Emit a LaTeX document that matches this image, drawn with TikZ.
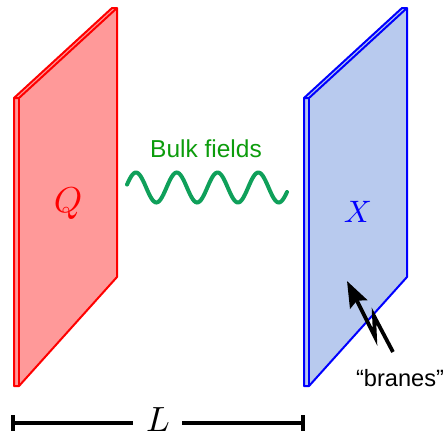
\documentclass[tikz,border=0pt]{standalone}
\usepackage{fontspec}
\setsansfont{Liberation Sans}
\usetikzlibrary{positioning,arrows.meta}
\definecolor{redfill}{HTML}{FF9999}
\definecolor{bluefill}{HTML}{B8CAEE}
\definecolor{bulkgreen}{HTML}{0FA05A}
\definecolor{bulktext}{HTML}{0C9C0C}

\begin{document}
\begin{tikzpicture}[x=1pt, y=-1pt,
    plate/.style={line width=2pt, line join=round},
    dimline/.style={line width=3.8pt, black},
    label/.style={inner sep=0pt, font=\sffamily\fontsize{23.6}{26}\selectfont}]
    \useasboundingbox (0,0) rectangle (444,434);

    % Left brane
    \draw[plate, draw=red, fill=redfill] (14,98) -- (112,8) -- (117,8) -- (117,277) -- (19,386) -- (14,386) -- cycle;
    \draw[plate, draw=red] (14,98) -- (19,98) -- (117,8);
    \draw[plate, draw=red] (19,98) -- (19,386);

    % Right brane
    \draw[plate, draw=blue, fill=bluefill] (304,98) -- (402,8) -- (407,8) -- (407,277) -- (309,386) -- (304,386) -- cycle;
    \draw[plate, draw=blue] (304,98) -- (309,98) -- (407,8);
    \draw[plate, draw=blue] (309,98) -- (309,386);

    \node[inner sep=0pt, scale=3.6, text=red] (qlabel) at (68,204) {$Q$};
    \node[inner sep=0pt, scale=3.1, text=blue] (xlabel) at (358,212) {$X$};

    % Wave between the branes
    \node[label, text=bulktext, font=\sffamily\fontsize{24.5}{28}\selectfont] (bulk) at (206,149) {Bulk fields};
    \draw[line width=4pt, color=bulkgreen, line cap=round] plot[domain=127:287, samples=120, smooth] (\x, {187.5-15*sin((\x-125.75)*8.8235)});

    % Arrow to the right brane
    \node[label] (branes) at (400,378) {``branes''};
    \coordinate (tail) at (393,352);
    \coordinate (kinka) at (374,316);
    \coordinate (kinkb) at (375,337);
    \coordinate (tip) at (347,281);
    \draw[-{Stealth[length=26pt, width=19pt, inset=4pt]}, line width=3.8pt, line join=miter] (tail) -- (kinka) -- (kinkb) -- (tip);

    % Separation
    \node[inner sep=0pt, scale=3.5] (sep) at (158,420) {$L$};
    \coordinate (sepl) at (13,423);
    \coordinate (sepr) at (303,423);
    \draw[dimline] (sepl) -- (133,423);
    \draw[dimline] (182,423) -- (sepr);
    \draw[dimline] (13,415) -- (13,431);
    \draw[dimline] (303,415) -- (303,431);
\end{tikzpicture}
\end{document}
